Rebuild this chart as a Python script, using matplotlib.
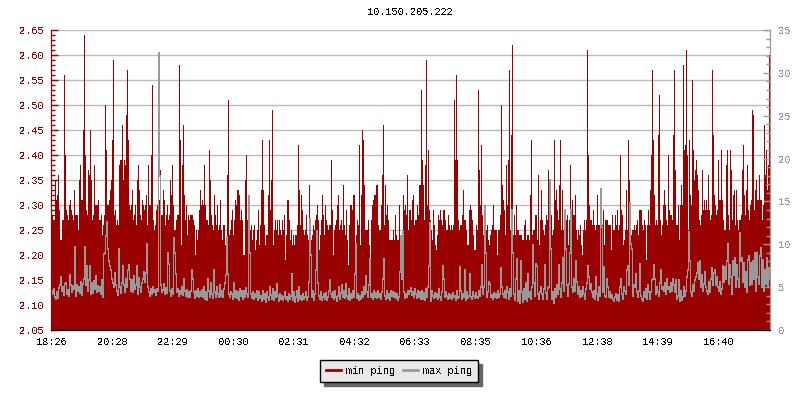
import numpy as np
import matplotlib
matplotlib.use('Agg')
from matplotlib import pyplot as plt
from matplotlib.ticker import MultipleLocator

plt.rcParams['font.family'] = ['Liberation Mono', 'DejaVu Sans Mono']
plt.rcParams['font.size'] = 7.4
plt.rcParams['text.antialiased'] = False

# min ping, one value per 2 minute sample (in ms)
min_ping_1 = [2.27,2.28,2.27,2.27,2.35,2.31,2.32,2.36,2.29,2.23,
              2.23,2.27,2.27,2.56,2.40,2.29,2.28,2.27,2.30,2.31,
              2.29,2.28,2.27,2.33,2.28,2.28,2.28,2.25,2.35,2.38,
              2.31,2.31,2.45,2.64,2.40,2.29,2.28,2.37,2.36,2.45,
              2.35,2.27,2.28,2.38,2.30,2.30,2.30,2.31,2.27,2.27,
              2.28,2.24,2.26,2.28,2.50,2.41,2.30,2.30,2.31,2.33,
              2.35,2.43,2.59,2.28,2.29,2.26,2.27,2.26,2.38,2.39,
              2.39,2.46,2.35,2.39,2.38,2.48,2.57,2.43,2.30,2.29,
              2.30,2.33,2.27,2.28,2.30,2.26,2.35,2.38,2.33,2.28,
              2.27,2.31,2.30,2.29,2.30,2.32,2.26,2.38,2.30,2.30,
              2.40,2.54,2.27,2.25,2.26,2.29,2.30,2.30,2.31,2.37,
              2.28,2.28,2.33,2.31,2.26,2.28,2.30,2.27,2.28,2.35,
              2.32,2.38,2.30,2.25,2.25,2.27,2.28,2.28,2.58,2.43,
              2.22,2.38,2.46,2.32,2.27,2.30,2.24,2.28,2.27,2.28,
              2.28,2.28,2.27,2.26,2.20,2.25,2.23,2.25,2.29,2.33,
              2.30,2.31,2.30,2.38,2.30,2.27,2.27,2.26,2.41,2.35,
              2.28,2.26,2.25,2.32,2.28,2.26,2.30,2.25,2.26,2.31,
              2.25,2.23,2.26,2.26,2.22,2.23,2.36,2.51,2.24,2.25]
min_ping_2 = [2.27,2.29,2.24,2.27,2.31,2.30,2.33,2.33,2.32,2.27,
              2.29,2.27,2.20,2.20,2.35,2.40,2.27,2.25,2.27,2.25,
              2.26,2.23,2.25,2.26,2.21,2.23,2.25,2.29,2.22,2.26,
              2.33,2.43,2.33,2.26,2.22,2.24,2.24,2.32,2.43,2.29,
              2.35,2.49,2.22,2.25,2.27,2.25,2.27,2.24,2.27,2.25,
              2.24,2.27,2.25,2.28,2.19,2.24,2.31,2.31,2.27,2.23,
              2.25,2.22,2.24,2.22,2.24,2.24,2.26,2.42,2.33,2.26,
              2.32,2.29,2.25,2.24,2.25,2.28,2.24,2.23,2.34,2.25,
              2.23,2.24,2.26,2.25,2.27,2.28,2.30,2.27,2.21,2.24,
              2.27,2.32,2.28,2.24,2.30,2.27,2.26,2.25,2.26,2.26,
              2.39,2.29,2.20,2.25,2.26,2.27,2.30,2.32,2.25,2.26,
              2.27,2.25,2.34,2.26,2.24,2.29,2.23,2.18,2.26,2.30,
              2.30,2.29,2.32,2.32,2.21,2.24,2.27,2.26,2.42,2.22,
              2.32,2.45,2.43,2.34,2.25,2.25,2.25,2.27,2.22,2.19,
              2.27,2.30,2.31,2.32,2.32,2.34,2.34,2.26,2.25,2.25,
              2.30,2.36,2.46,2.26,2.34,2.28,2.30,2.27,2.23,2.23,
              2.23,2.23,2.25,2.23,2.28,2.24,2.23,2.23,2.30,2.22,
              2.22,2.24,2.32,2.29,2.30,2.28,2.36,2.25,2.29,2.29]
min_ping_3 = [2.27,2.31,2.32,2.26,2.27,2.27,2.30,2.28,2.34,2.34,
              2.53,2.39,2.34,2.27,2.38,2.59,2.30,2.41,2.29,2.27,
              2.25,2.23,2.29,2.26,2.22,2.21,2.24,2.28,2.27,2.29,
              2.27,2.26,2.29,2.29,2.27,2.25,2.25,2.28,2.26,2.25,
              2.26,2.25,2.26,2.51,2.39,2.56,2.39,2.27,2.25,2.26,
              2.26,2.28,2.33,2.27,2.27,2.25,2.22,2.22,2.29,2.30,
              2.29,2.27,2.24,2.21,2.21,2.26,2.25,2.53,2.37,2.30,
              2.42,2.28,2.24,2.27,2.27,2.25,2.26,2.23,2.22,2.24,
              2.25,2.26,2.30,2.25,2.25,2.25,2.20,2.25,2.25,2.28,
              2.50,2.34,2.31,2.29,2.24,2.38,2.30,2.39,2.57,2.25,
              2.44,2.62,2.24,2.28,2.24,2.30,2.25,2.25,2.24,2.24,
              2.24,2.23,2.23,2.26,2.27,2.23,2.24,2.24,2.23,2.32,
              2.43,2.24,2.25,2.25,2.28,2.28,2.23,2.36,2.22,2.27,
              2.33,2.27,2.25,2.24,2.26,2.28,2.27,2.37,2.29,2.28,
              2.28,2.24,2.25,2.43,2.31,2.33,2.29,2.27,2.34,2.43,
              2.25,2.33,2.25,2.29,2.22,2.27,2.28,2.22,2.27,2.38,
              2.27,2.31,2.28,2.28,2.32,2.25,2.23,2.25,2.24,2.26,
              2.22,2.20,2.25,2.27,2.25,2.27,2.61,2.40,2.30,2.27]
min_ping_4 = [2.27,2.26,2.29,2.26,2.25,2.26,2.32,2.26,2.26,2.26,
              2.26,2.26,2.29,2.22,2.27,2.27,2.27,2.26,2.26,2.26,
              2.21,2.28,2.25,2.25,2.28,2.26,2.29,2.25,2.26,2.40,
              2.29,2.28,2.22,2.23,2.25,2.33,2.25,2.43,2.35,2.29,
              2.24,2.25,2.25,2.26,2.25,2.26,2.27,2.24,2.29,2.29,
              2.29,2.26,2.25,2.27,2.26,2.19,2.26,2.29,2.26,2.33,
              2.40,2.57,2.43,2.32,2.26,2.27,2.26,2.44,2.52,2.27,
              2.24,2.26,2.30,2.33,2.30,2.27,2.26,2.40,2.29,2.28,
              2.28,2.27,2.44,2.57,2.37,2.26,2.26,2.30,2.23,2.30,
              2.34,2.30,2.58,2.41,2.42,2.61,2.40,2.25,2.43,2.32,
              2.30,2.55,2.41,2.35,2.37,2.39,2.36,2.33,2.27,2.26,
              2.28,2.37,2.29,2.31,2.29,2.31,2.29,2.36,2.29,2.27,
              2.28,2.57,2.44,2.32,2.30,2.28,2.29,2.39,2.31,2.31,
              2.41,2.31,2.27,2.25,2.25,2.38,2.41,2.28,2.25,2.41,
              2.37,2.27,2.32,2.33,2.26,2.33,2.27,2.25,2.27,2.27,
              2.28,2.37,2.42,2.32,2.28,2.33,2.38,2.29,2.27,2.30,
              2.31,2.49,2.48,2.29,2.33,2.35,2.31,2.31,2.36,2.31,
              2.31,2.27,2.30,2.46,2.36,2.41,2.33,2.38,2.60,2.42]

# max ping, same samples (in ms, right axis)
max_ping_1 = [4.6,4.2,4.8,3.9,3.6,4.4,3.7,4.9,5.2,6.2,
              4.5,5.0,4.1,5.4,5.5,4.2,4.7,4.0,6.4,5.3,
              4.4,5.1,4.8,9.7,4.0,5.2,4.6,5.0,4.3,5.6,
              4.1,5.4,6.0,9.7,5.2,7.5,4.6,5.8,7.5,4.2,
              5.5,4.3,5.7,4.8,6.3,4.4,5.1,4.6,5.0,4.2,
              5.8,3.9,8.9,9.0,11.0,12.6,9.5,8.0,7.5,7.0,
              6.0,5.5,5.0,6.6,5.2,4.6,4.1,9.5,5.0,4.3,
              5.5,7.5,5.2,4.4,6.0,5.0,7.0,7.6,6.0,4.6,
              5.8,4.4,6.3,4.8,5.2,7.5,4.2,6.1,5.0,4.4,
              5.5,6.0,6.8,5.6,6.7,10.0,5.0,4.4,4.0,4.8,
              4.2,5.0,4.4,4.7,4.1,4.8,4.5,32.3,18.0,5.2,
              4.4,4.7,5.4,4.2,4.9,4.3,9.0,7.7,4.6,4.0,
              4.8,4.2,10.7,9.0,6.5,4.4,4.8,4.0,4.6,4.2,
              5.0,4.1,6.0,4.5,4.0,4.7,3.8,4.4,3.9,4.5,
              7.0,6.0,4.4,3.7,4.6,4.0,4.8,3.9,4.4,4.0,
              4.7,3.8,5.0,3.6,4.4,3.5,6.0,4.5,3.8,5.5,
              4.2,3.7,7.0,4.4,3.9,5.0,4.2,3.8,5.2,4.0,
              4.5,3.9,4.8,5.5,6.4,10.9,6.5,4.2,3.8,4.4]
max_ping_2 = [4.2,3.6,5.5,3.8,4.6,3.7,4.4,3.5,4.8,4.0,
              4.6,3.6,4.5,3.8,4.9,4.2,3.9,15.6,9.0,4.2,
              3.7,4.4,3.6,4.2,3.8,4.6,3.5,4.4,3.7,4.0,
              3.4,4.5,3.6,4.2,3.3,4.4,3.8,3.5,5.0,4.1,
              3.6,4.8,3.5,4.4,3.8,5.4,4.0,3.4,4.2,3.6,
              4.0,3.5,3.8,4.4,3.6,3.9,3.4,4.2,3.6,4.0,
              6.5,3.5,4.4,3.3,3.8,4.6,3.4,5.0,3.6,4.0,
              3.5,4.2,3.6,3.8,4.4,3.5,3.9,5.6,13.0,8.8,
              3.8,4.6,3.5,4.2,7.0,11.5,5.5,4.0,3.6,4.4,
              3.5,3.9,4.2,3.6,4.3,3.5,3.9,4.6,5.8,4.2,
              3.8,4.4,3.6,4.6,3.8,3.4,4.0,5.0,3.6,4.3,
              5.2,3.8,4.6,3.7,5.4,4.0,3.6,4.8,3.5,4.2,
              3.7,4.5,3.8,6.5,10.0,3.7,4.2,3.5,4.0,3.6,
              4.4,3.8,5.0,4.2,6.3,4.4,3.9,5.2,8.3,3.8,
              4.2,3.6,4.5,3.9,4.3,3.7,4.6,3.9,4.2,3.6,
              4.4,6.0,8.3,4.0,3.6,4.6,3.7,4.2,3.5,4.6,
              4.0,4.4,3.8,4.3,3.7,4.2,3.5,3.9,6.8,11.0,
              6.0,11.5,4.4,3.7,4.2,3.9,4.5,4.2,4.6,4.9]
max_ping_3 = [4.1,4.4,3.8,4.8,4.2,3.7,4.6,3.9,4.4,3.6,
              4.5,3.6,4.3,3.5,4.8,3.8,5.0,7.5,12.5,3.4,
              4.6,4.0,3.7,4.3,3.9,4.2,3.6,4.8,3.9,3.5,
              4.4,7.5,6.0,3.8,4.4,4.0,3.6,4.2,3.7,4.1,
              3.6,4.3,3.8,4.0,3.5,4.6,3.7,3.9,7.3,4.5,
              3.6,4.2,3.8,7.0,3.5,4.4,3.7,4.0,6.5,3.8,
              3.6,4.4,4.0,3.7,4.3,3.9,3.7,4.5,4.0,5.0,
              7.6,4.2,5.0,14.5,9.0,3.8,4.4,5.6,5.4,3.8,
              4.1,3.6,4.3,3.8,4.2,3.7,4.5,3.9,4.2,7.2,
              5.0,4.2,3.8,4.6,3.7,5.0,4.4,3.6,4.8,4.0,
              14.0,9.0,4.2,3.5,6.0,8.3,3.4,4.6,3.2,8.0,
              4.4,3.3,4.8,3.6,5.5,3.4,6.5,3.8,4.4,3.6,
              5.0,9.9,5.5,4.0,7.7,7.5,4.2,3.6,4.4,5.0,
              4.2,3.6,4.8,7.6,4.3,3.6,4.9,5.0,17.5,9.5,
              3.6,4.4,3.2,4.8,3.9,5.2,4.2,7.6,4.8,3.8,
              5.5,8.4,4.6,14.0,9.5,5.2,4.0,5.4,9.0,14.0,
              5.0,4.4,6.0,4.6,8.0,5.6,4.2,5.0,3.8,4.6,
              4.0,5.0,4.2,3.6,4.8,5.5,7.5,6.2,4.8,5.4]
max_ping_4 = [4.4,3.9,4.6,3.6,6.2,4.2,3.5,5.0,4.0,16.5,
              12.0,4.4,7.3,4.0,3.9,6.0,5.0,3.8,4.4,3.7,
              4.1,3.6,3.4,3.8,4.2,3.5,4.1,3.4,5.0,6.0,
              4.2,3.6,5.0,4.6,4.2,7.0,7.5,5.2,14.8,10.0,
              9.5,4.0,5.2,5.0,6.5,4.4,3.8,4.5,7.7,4.0,
              3.6,3.4,4.4,3.8,4.8,3.6,5.2,4.4,3.6,4.4,
              5.8,6.0,7.6,6.0,4.2,5.0,4.4,4.0,5.5,7.0,
              4.8,5.0,4.6,5.5,4.2,6.0,4.8,5.0,4.4,5.5,
              4.6,6.0,5.2,4.4,5.8,3.6,4.0,5.8,3.4,4.6,
              3.5,3.8,5.0,4.0,4.6,6.2,7.0,11.4,8.0,4.4,
              4.0,5.2,4.6,5.8,6.2,6.6,7.8,6.0,8.0,5.0,
              6.4,4.6,5.4,6.8,5.0,4.6,4.2,5.6,4.4,6.0,
              7.2,5.2,6.6,7.0,5.2,6.2,5.0,4.6,5.6,4.2,
              4.8,7.5,5.6,7.4,6.0,8.0,10.0,5.4,7.6,6.2,
              4.2,8.0,6.4,8.4,5.0,7.6,6.0,5.0,11.3,8.0,
              8.4,5.6,7.8,5.0,6.8,4.4,8.2,8.6,5.2,7.8,
              5.4,8.0,6.0,9.0,4.6,9.0,6.2,5.4,8.6,9.6,
              5.0,8.2,4.6,7.0,5.4,8.4,5.0,7.2,6.0,5.6]

title = '10.150.205.222'
time_labels = ['18:26', '20:28', '22:29', '00:30', '02:31', '04:32',
               '06:33', '08:35', '10:36', '12:38', '14:39', '16:40']

min_ping = np.array(min_ping_1 + min_ping_2 + min_ping_3 + min_ping_4)
max_ping = np.array(max_ping_1 + max_ping_2 + max_ping_3 + max_ping_4)
t = np.arange(len(min_ping))

# tick labels are clock times, a sample is 2 minutes
minutes = np.array([int(s[:2]) * 60 + int(s[3:]) for s in time_labels])
tick_pos = ((minutes - minutes[0]) % 1440) / 2.0

red = '#990000'
gray = '#999999'
px = 72. / 100   # one pixel in points

fig = plt.figure(figsize=(8, 4), dpi=100, facecolor='w')
ax = fig.add_axes([51 / 800., 70 / 400., 719 / 800., 300 / 400.])
ax2 = ax.twinx()

# half sample offset puts every column on a whole pixel
ax.set_xlim(-0.5, len(t) - 1.5)
ax.set_ylim(2.05, 2.65)
ax2.set_ylim(0, 35)

ax.yaxis.set_major_locator(MultipleLocator(0.05))
ax.yaxis.set_minor_locator(MultipleLocator(0.01))
ax.yaxis.set_major_formatter(plt.FormatStrFormatter('%.2f'))
ax2.yaxis.set_major_locator(MultipleLocator(5))
ax2.yaxis.set_minor_locator(MultipleLocator(1))
ax.set_xticks(tick_pos)
ax.set_xticklabels(time_labels)

ax.set_axisbelow(True)
ax.grid(axis='y', which='major', color='#bbbbbb', lw=1.4 * px)
ax.grid(axis='x', visible=False)

# one pixel wide column per sample, crisp like the original
ax.bar(t, min_ping - 2.05, bottom=2.05, width=1.0, color=red, lw=0,
       antialiased=False)
ax2.step(t, max_ping, where='post', color=gray, lw=px, antialiased=False)

ax.tick_params(axis='y', which='major', direction='in', length=5, width=1,
               colors=red, pad=5)
ax.tick_params(axis='y', which='minor', direction='in', length=3, width=1,
               color=red)
ax.tick_params(axis='x', direction='in', length=5, width=1, color='k',
               labelcolor='k', pad=5)
ax2.tick_params(axis='y', which='major', direction='in', length=5, width=1,
                colors=gray, pad=6)
ax2.tick_params(axis='y', which='minor', direction='in', length=3, width=1,
                color=gray)

for a in [ax, ax2]:
    a.spines['top'].set_visible(False)
    a.spines['left'].set_color(red)
    a.spines['right'].set_color(gray)
    a.spines['bottom'].set_color('k')

fig.text(410 / 800., 388 / 400., title, ha='center', va='center', color='k')

handles = [plt.Line2D([], [], color=red, lw=2), plt.Line2D([], [], color=gray, lw=2)]
fig.legend(handles, ['min ping', 'max ping'], loc='center',
           bbox_to_anchor=(399 / 800., 29 / 400.), ncol=2, fancybox=False,
           framealpha=1, facecolor='#e8e8e8', edgecolor='k',
           shadow={'color': '#666666', 'alpha': 1, 'ox': 3, 'oy': -3},
           handlelength=1.5, handletextpad=0.5, columnspacing=0.7,
           borderpad=0.6, borderaxespad=0)

fig.savefig('out.png', dpi=100)
